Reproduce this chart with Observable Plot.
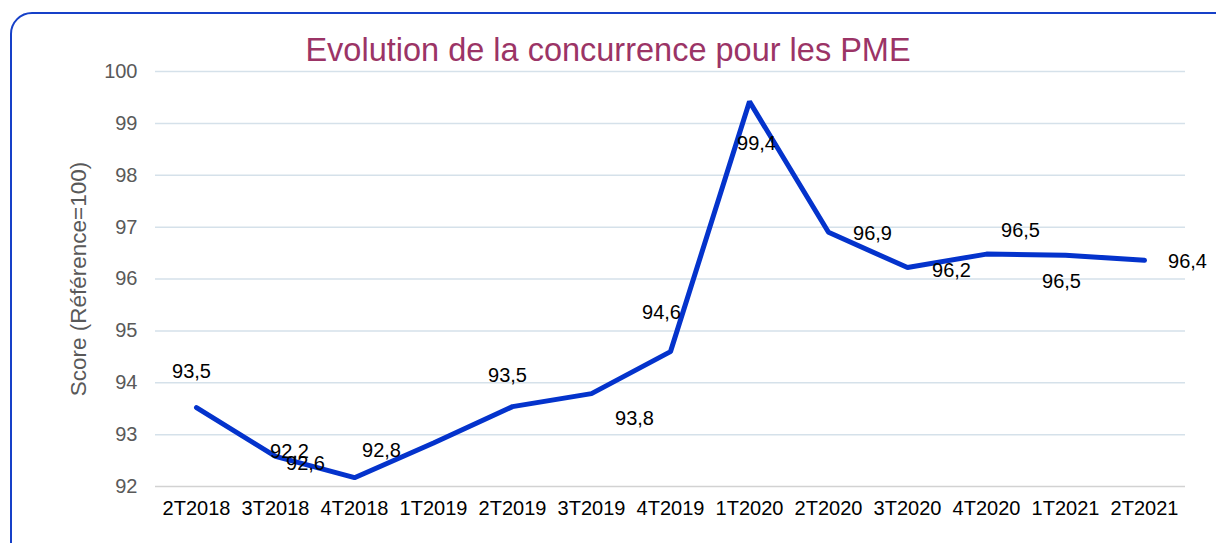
<!DOCTYPE html>
<html>
<head>
<meta charset="utf-8">
<script src="https://cdn.jsdelivr.net/npm/d3@7"></script>
<script src="https://cdn.jsdelivr.net/npm/@observablehq/plot@0.6"></script>
<style>
  html, body { margin: 0; padding: 0; background: #fff; }
  #wrap { position: relative; width: 1216px; height: 543px; overflow: hidden; font-family: "Liberation Sans", Arial, sans-serif; }
  #frame { position: absolute; left: 10px; top: 12px; width: 1230px; height: 560px; border: 2px solid #1640c8; border-radius: 22px; box-sizing: border-box; }
  #title { position: absolute; left: 0; width: 1216px; top: 32px; text-align: center; font-size: 32.5px; line-height: 36px; color: #9b3466; }
  #chart { position: absolute; left: 0; top: 0; }
</style>
</head>
<body>
<div id="wrap">
  <div id="frame"></div>
  <div id="chart"></div>
  <div id="title">Evolution de la concurrence pour les PME</div>
</div>
<script>
const categories = ["2T2018","3T2018","4T2018","1T2019","2T2019","3T2019","4T2019","1T2020","2T2020","3T2020","4T2020","1T2021","2T2021"];
const scores = [93.52, 92.58, 92.17, 92.84, 93.54, 93.79, 94.6, 99.42, 96.9, 96.22, 96.48, 96.46, 96.36];
const yTicks = [92, 93, 94, 95, 96, 97, 98, 99, 100];
const yLabel = "Score (Référence=100)";

const data = categories.map((c, i) => ({cat: c, score: scores[i], idx: i}));
// label offsets (pixels) reproducing the reference's placement
const labelOffsets = [[-5,-36],[30,7],[-65,-26],[-52,8],[-5,-31],[43,25],[-9,-39],[7,42],[44,1],[44,3],[34,-24],[-4,26],[43,1]];
const fmt = v => v.toFixed(1).replace(".", ",");

const labelMarks = data.map((d, i) => Plot.text([d], {
  x: "cat", y: "score", text: d => fmt(d.score),
  dx: labelOffsets[i][0], dy: labelOffsets[i][1],
  fontSize: 20, fill: "#000"
}));

const chart = Plot.plot({
  width: 1216,
  height: 543,
  marginLeft: 155,
  marginRight: 31,
  marginTop: 71,
  marginBottom: 57,
  style: {fontFamily: "'Liberation Sans', Arial, sans-serif", background: "transparent"},
  x: {type: "point", domain: categories, padding: 0.5, label: null},
  y: {domain: [92, 100], label: null},
  marks: [
    Plot.ruleY(yTicks.filter(t => t > 92), {stroke: "#d5e1ea", strokeWidth: 1.5}),
    Plot.ruleY([92], {stroke: "#d2d2d2", strokeWidth: 1.5}),
    Plot.axisY({ticks: yTicks, tickSize: 0, tickPadding: 18, fontSize: 20, color: "#595959", label: null}),
    Plot.axisX({tickSize: 0, tickPadding: 14, fontSize: 20, color: "#000", label: null}),
    Plot.text([yLabel], {frameAnchor: "left", textAnchor: "middle", text: d => d, rotate: -90, dx: -77, fontSize: 22.5, fill: "#595959"}),
    Plot.line(data, {x: "cat", y: "score", stroke: "#0433cc", strokeWidth: 5, strokeLinejoin: "miter"}),
    ...labelMarks
  ]
});
document.getElementById("chart").appendChild(chart);
</script>
</body>
</html>
